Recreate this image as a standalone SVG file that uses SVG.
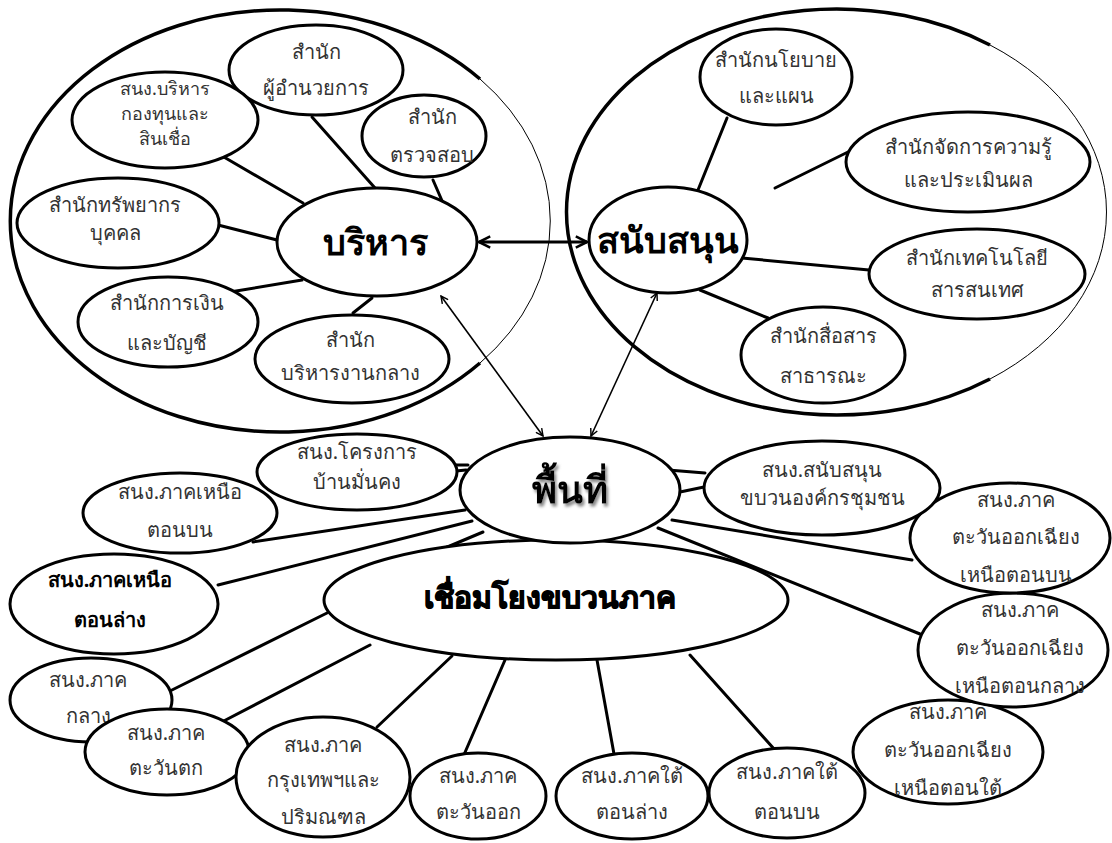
<svg xmlns="http://www.w3.org/2000/svg" width="1112" height="843" viewBox="0 0 1112 843">
<style>
.bg{fill:#fff}
.cont{fill:none;stroke:#000;stroke-width:3.5}
.contthin{fill:none;stroke:#000;stroke-width:1}
.n{fill:#fff;stroke:#000;stroke-width:3}
.c{stroke:#000;stroke-width:3;fill:none;stroke-linecap:round}
.a{stroke:#000;stroke-width:1.6;fill:none;marker-start:url(#ah);marker-end:url(#ah)}
.a2{stroke:#000;stroke-width:3;fill:none;marker-start:url(#ah2);marker-end:url(#ah2)}
.t{font-family:"Noto Sans","DejaVu Sans",sans-serif;font-size:20px;text-anchor:middle;fill:#333}
.ts{font-family:"Noto Sans","DejaVu Sans",sans-serif;font-size:18px;text-anchor:middle;fill:#333}
.tb{font-family:"Noto Sans","DejaVu Sans",sans-serif;font-size:20px;text-anchor:middle;fill:#000;font-weight:bold}
.big{font-family:"Noto Sans","DejaVu Sans",sans-serif;font-size:36px;text-anchor:middle;fill:#000;font-weight:bold}
.link{font-family:"Noto Sans","DejaVu Sans",sans-serif;font-size:30px;text-anchor:middle;fill:#000;font-weight:bold;stroke:#000;stroke-width:1.2}
</style>
<defs>
<marker id="ah" viewBox="0 0 10 10" refX="9" refY="5" markerWidth="9" markerHeight="9" markerUnits="userSpaceOnUse" orient="auto-start-reverse"><path d="M1,1 L9,5 L1,9" fill="none" stroke="#000" stroke-width="1.6"/></marker>
<marker id="ah2" viewBox="0 0 10 10" refX="9" refY="5" markerWidth="14" markerHeight="14" markerUnits="userSpaceOnUse" orient="auto-start-reverse"><path d="M1,1 L9,5 L1,9" fill="none" stroke="#000" stroke-width="1.8"/></marker>
<filter id="sh" x="-20%" y="-20%" width="140%" height="140%"><feGaussianBlur in="SourceAlpha" stdDeviation="1.5"/><feOffset dx="2" dy="3" result="b"/><feFlood flood-color="#888"/><feComposite in2="b" operator="in"/><feMerge><feMergeNode/><feMergeNode in="SourceGraphic"/></feMerge></filter>
</defs>
<rect class="bg" x="0" y="0" width="1112" height="843"/>

<g id="container-left">
<path class="cont" d="M480,79 A270,211 0 1 0 480,363"/>
<path class="contthin" d="M480,79 A270,211 0 0 1 480,363"/>
</g>
<g id="container-right">
<path class="cont" d="M990,45 A270,203 0 1 0 990,379"/>
<path class="contthin" d="M990,45 A270,203 0 0 1 990,379"/>
</g>

<g id="connectors">
<line class="c" x1="303" y1="203" x2="217" y2="153"/>
<line class="c" x1="312" y1="117" x2="375" y2="188"/>
<line class="c" x1="433" y1="180" x2="443" y2="203"/>
<line class="c" x1="218" y1="225" x2="277" y2="240"/>
<line class="c" x1="230" y1="292" x2="302" y2="280"/>
<line class="c" x1="353" y1="313" x2="372" y2="298"/>
<line class="c" x1="698" y1="190" x2="727" y2="118"/>
<line class="c" x1="775" y1="188" x2="848" y2="152"/>
<line class="c" x1="742" y1="258" x2="869" y2="270"/>
<line class="c" x1="700" y1="290" x2="768" y2="318"/>
<line class="a2" x1="479" y1="242" x2="587" y2="242"/>
<line class="a" x1="441" y1="296" x2="543" y2="436"/>
<line class="a" x1="657" y1="293" x2="591" y2="436"/>
<line class="c" x1="455" y1="465" x2="468" y2="465"/>
<line class="c" x1="456" y1="471" x2="466" y2="470"/>
<line class="c" x1="253" y1="542" x2="465" y2="510"/>
<line class="c" x1="218" y1="585" x2="472" y2="521"/>
<line class="c" x1="445" y1="548" x2="483" y2="532"/>
<line class="c" x1="668" y1="470" x2="705" y2="473"/>
<line class="c" x1="680" y1="492" x2="704" y2="487"/>
<line class="c" x1="672" y1="520" x2="912" y2="560"/>
<line class="c" x1="658" y1="528" x2="920" y2="634"/>
<line class="c" x1="327" y1="613" x2="172" y2="690"/>
<line class="c" x1="370" y1="645" x2="218" y2="724"/>
<line class="c" x1="452" y1="656" x2="377" y2="727"/>
<line class="c" x1="505" y1="660" x2="463" y2="757"/>
<line class="c" x1="597" y1="660" x2="614" y2="754"/>
<line class="c" x1="690" y1="655" x2="775" y2="750"/>
</g>

<g id="n-director"><ellipse class="n" cx="316" cy="70" rx="87" ry="45"/><text class="t" x="316" y="59">สำนัก</text><text class="t" x="316" y="95">ผู้อำนวยการ</text></g>
<g id="n-fund"><ellipse class="n" cx="165" cy="120" rx="93" ry="48"/><text class="ts" x="165" y="95">สนง.บริหาร</text><text class="ts" x="165" y="120">กองทุนและ</text><text class="ts" x="165" y="145">สินเชื่อ</text></g>
<g id="n-audit"><ellipse class="n" cx="424" cy="136" rx="62" ry="41"/><text class="t" x="432" y="124">สำนัก</text><text class="t" x="432" y="162">ตรวจสอบ</text></g>
<g id="n-hr"><ellipse class="n" cx="118" cy="223" rx="101" ry="45"/><text class="t" x="115" y="212">สำนักทรัพยากร</text><text class="t" x="115" y="240">บุคคล</text></g>
<g id="n-finance"><ellipse class="n" cx="168" cy="322" rx="90" ry="45"/><text class="t" x="167" y="310">สำนักการเงิน</text><text class="t" x="167" y="350">และบัญชี</text></g>
<g id="n-central"><ellipse class="n" cx="352" cy="359" rx="97" ry="44"/><text class="t" x="350" y="347">สำนัก</text><text class="t" x="350" y="380">บริหารงานกลาง</text></g>
<g id="n-admin"><ellipse class="n" cx="377" cy="242" rx="100" ry="54"/><text class="big" x="375" y="255">บริหาร</text></g>

<g id="n-policy"><ellipse class="n" cx="776" cy="77" rx="76" ry="48"/><text class="t" x="776" y="67">สำนักนโยบาย</text><text class="t" x="776" y="103">และแผน</text></g>
<g id="n-km"><ellipse class="n" cx="968" cy="162" rx="122" ry="50"/><text class="t" x="968" y="154">สำนักจัดการความรู้</text><text class="t" x="968" y="187">และประเมินผล</text></g>
<g id="n-it"><ellipse class="n" cx="977" cy="274" rx="108" ry="45"/><text class="t" x="977" y="265">สำนักเทคโนโลยี</text><text class="t" x="977" y="297">สารสนเทศ</text></g>
<g id="n-comm"><ellipse class="n" cx="823" cy="355" rx="82" ry="48"/><text class="t" x="823" y="343">สำนักสื่อสาร</text><text class="t" x="823" y="383">สาธารณะ</text></g>
<g id="n-support"><ellipse class="n" cx="668" cy="240" rx="79" ry="53"/><text class="big" x="668" y="253">สนับสนุน</text></g>

<g id="n-link"><ellipse class="n" cx="556" cy="600" rx="232" ry="60"/><text class="link" x="550" y="608">เชื่อมโยงขบวนภาค</text></g>
<g id="n-area"><ellipse class="n" cx="570" cy="490" rx="110" ry="53"/><text class="big" x="570" y="503" filter="url(#sh)" style="font-size:38px">พื้นที่</text></g>

<g id="n-housing"><ellipse class="n" cx="357" cy="472" rx="100" ry="38"/><text class="t" x="357" y="459">สนง.โครงการ</text><text class="t" x="357" y="489">บ้านมั่นคง</text></g>
<g id="n-north-up"><ellipse class="n" cx="180" cy="513" rx="97" ry="40"/><text class="t" x="180" y="499">สนง.ภาคเหนือ</text><text class="t" x="180" y="537">ตอนบน</text></g>
<g id="n-north-low"><ellipse class="n" cx="114" cy="604" rx="104" ry="50"/><text class="tb" x="110" y="587">สนง.ภาคเหนือ</text><text class="tb" x="110" y="627">ตอนล่าง</text></g>
<g id="n-central-r"><ellipse class="n" cx="91" cy="700" rx="81" ry="42"/><text class="t" x="88" y="687">สนง.ภาค</text><text class="t" x="88" y="723">กลาง</text></g>
<g id="n-west"><ellipse class="n" cx="167" cy="752" rx="82" ry="43"/><text class="t" x="166" y="740">สนง.ภาค</text><text class="t" x="166" y="775">ตะวันตก</text></g>
<g id="n-bkk"><ellipse class="n" cx="323" cy="777" rx="87" ry="60"/><text class="t" x="323" y="752">สนง.ภาค</text><text class="t" x="323" y="787">กรุงเทพฯและ</text><text class="t" x="323" y="824">ปริมณฑล</text></g>
<g id="n-east"><ellipse class="n" cx="478" cy="796" rx="68" ry="43"/><text class="t" x="478" y="783">สนง.ภาค</text><text class="t" x="478" y="819">ตะวันออก</text></g>
<g id="n-south-low"><ellipse class="n" cx="632" cy="796" rx="76" ry="43"/><text class="t" x="632" y="783">สนง.ภาคใต้</text><text class="t" x="632" y="819">ตอนล่าง</text></g>
<g id="n-south-up"><ellipse class="n" cx="787" cy="793" rx="78" ry="45"/><text class="t" x="787" y="779">สนง.ภาคใต้</text><text class="t" x="787" y="819">ตอนบน</text></g>
<g id="n-ne-south"><ellipse class="n" cx="948" cy="752" rx="95" ry="52"/><text class="t" x="948" y="719">สนง.ภาค</text><text class="t" x="948" y="757">ตะวันออกเฉียง</text><text class="t" x="948" y="795">เหนือตอนใต้</text></g>
<g id="n-ne-mid"><ellipse class="n" cx="1013" cy="650" rx="95" ry="57"/><text class="t" x="1020" y="617">สนง.ภาค</text><text class="t" x="1020" y="655">ตะวันออกเฉียง</text><text class="t" x="1020" y="693">เหนือตอนกลาง</text></g>
<g id="n-ne-up"><ellipse class="n" cx="1010" cy="538" rx="100" ry="55"/><text class="t" x="1016" y="507">สนง.ภาค</text><text class="t" x="1016" y="544">ตะวันออกเฉียง</text><text class="t" x="1016" y="582">เหนือตอนบน</text></g>
<g id="n-codi"><ellipse class="n" cx="822" cy="488" rx="118" ry="47"/><text class="t" x="822" y="477">สนง.สนับสนุน</text><text class="t" x="822" y="505">ขบวนองค์กรชุมชน</text></g>
</svg>
